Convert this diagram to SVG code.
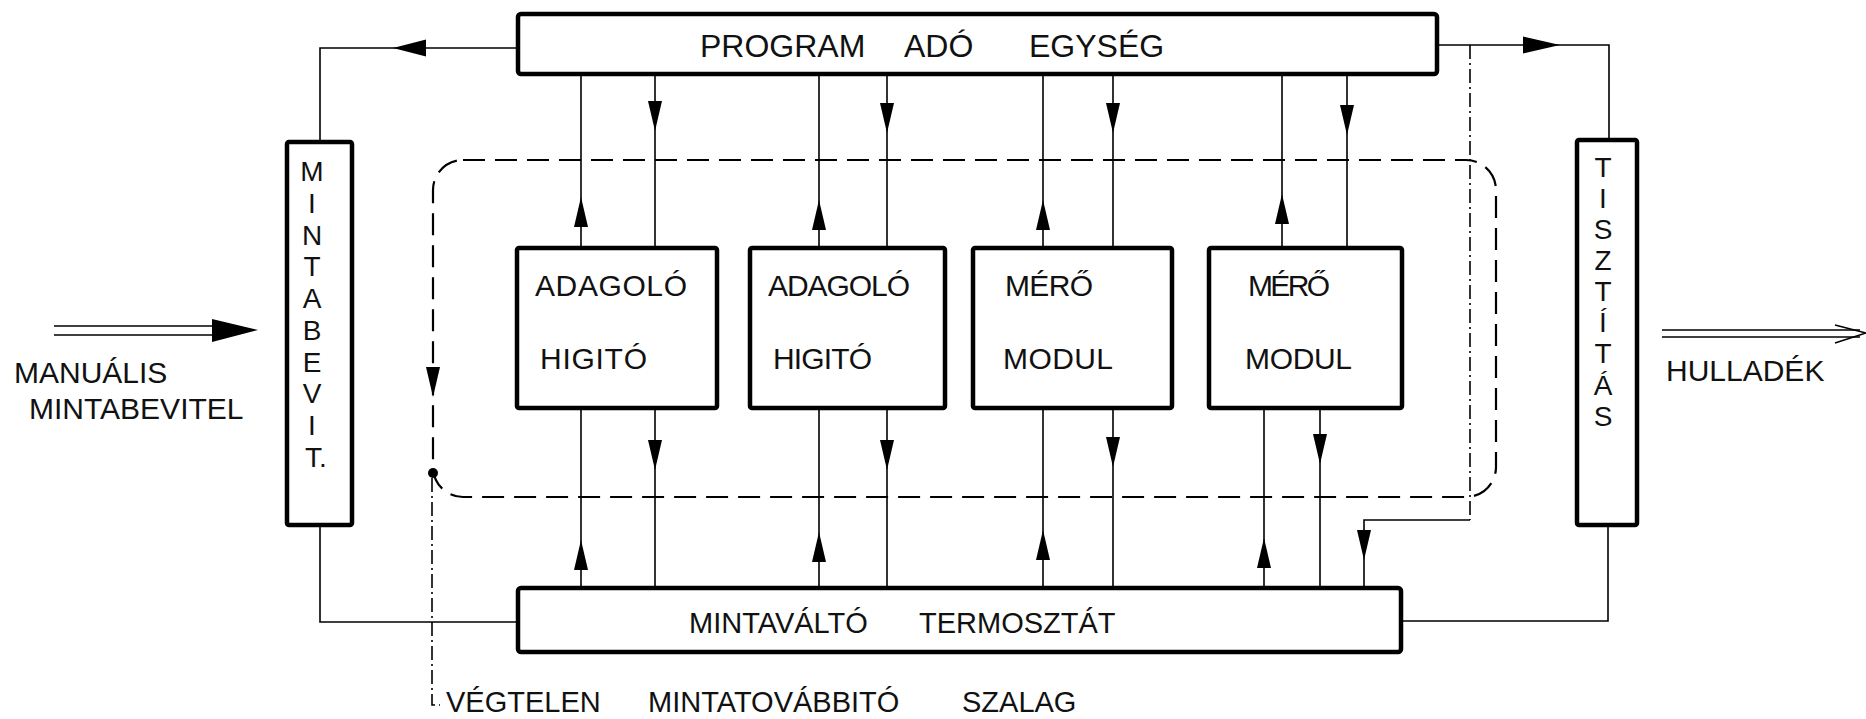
<svg xmlns="http://www.w3.org/2000/svg" width="1866" height="719" viewBox="0 0 1866 719">
  <defs>
    <style>
      .box{fill:#fff;stroke:#000;stroke-width:4.5}
      .ln{fill:none;stroke:#000;stroke-width:1.6}
      .dash{fill:none;stroke:#000;stroke-width:2.2;stroke-dasharray:22 10}
      .dd{fill:none;stroke:#000;stroke-width:1.6;stroke-dasharray:14 4 2 4}
      .ah{fill:#000}
      text{font-family:"Liberation Sans",Arial,sans-serif;fill:#111}
      .big{font-size:32px}
      .mid{font-size:30px}
      .sm{font-size:29px}
      .vert{font-size:28px;text-anchor:middle}
    </style>
    <!-- filled arrowheads, tip at the origin -->
    <path id="aDn" d="M-7,-30 L7,-30 L0,0 Z"/>
    <path id="aUp" d="M-7,30 L7,30 L0,0 Z"/>
    <path id="aL" d="M0,0 L33,-8.5 L33,8.5 Z"/>
    <path id="aR" d="M0,0 L-37,-8.5 L-37,8.5 Z"/>
  </defs>

  <rect width="1866" height="719" fill="#fff"/>

  <g id="connectors">
    <!-- endless sample conveyor belt loop -->
    <rect class="dash" x="433" y="160" width="1063" height="337" rx="30"/>
    <use class="ah" href="#aDn" x="433" y="397"/>
    <circle cx="433" cy="473" r="5" fill="#000"/>
    <path class="dd" d="M432,478 V705 H440"/>

    <!-- program unit to sample input and cleaning -->
    <path class="ln" d="M518,48 H320 V142"/>
    <use class="ah" href="#aL" x="393" y="48"/>
    <path class="ln" d="M1437,45 H1609 V140"/>
    <use class="ah" href="#aR" x="1560" y="45"/>
    <path class="dd" d="M1470,45 V520"/>
    <path class="ln" d="M1470,520 H1364 V588"/>
    <use class="ah" href="#aDn" x="1364" y="560"/>

    <!-- sample input / cleaning to sample changer -->
    <path class="ln" d="M320,525 V622 H518"/>
    <path class="ln" d="M1401,621 H1608 V525"/>

    <!-- program unit to modules -->
    <path class="ln" d="M581,74 V248 M655,74 V248 M819,74 V248 M887,74 V248 M1043,74 V248 M1113,74 V248 M1282,74 V248 M1347,74 V248"/>
    <use class="ah" href="#aUp" x="581" y="197"/>
    <use class="ah" href="#aDn" x="655" y="131"/>
    <use class="ah" href="#aUp" x="819" y="200"/>
    <use class="ah" href="#aDn" x="887" y="133"/>
    <use class="ah" href="#aUp" x="1043" y="200"/>
    <use class="ah" href="#aDn" x="1113" y="133"/>
    <use class="ah" href="#aUp" x="1282" y="194"/>
    <use class="ah" href="#aDn" x="1347" y="135"/>

    <!-- modules to sample changer -->
    <path class="ln" d="M581,408 V588 M655,408 V588 M819,408 V588 M887,408 V588 M1043,408 V588 M1113,408 V588 M1264,408 V588 M1320,408 V588"/>
    <use class="ah" href="#aUp" x="581" y="540"/>
    <use class="ah" href="#aDn" x="655" y="470"/>
    <use class="ah" href="#aUp" x="819" y="532"/>
    <use class="ah" href="#aDn" x="887" y="470"/>
    <use class="ah" href="#aUp" x="1043" y="530"/>
    <use class="ah" href="#aDn" x="1113" y="467"/>
    <use class="ah" href="#aUp" x="1264" y="538"/>
    <use class="ah" href="#aDn" x="1320" y="464"/>

    <!-- manual input and waste flows -->
    <path class="ln" d="M54,326 H222 M54,335 H222"/>
    <path class="ah" d="M258,330 L212,319 L212,342 Z"/>
    <path class="ln" d="M1662,330 H1860 M1662,337 H1860"/>
    <path class="ln" d="M1835,325 L1866,333 L1835,343"/>
  </g>

  <g id="program-unit">
    <rect class="box" x="518" y="14" width="919" height="60" rx="3"/>
    <text class="big" y="57"><tspan x="700">PROGRAM</tspan> <tspan x="904">ADÓ</tspan> <tspan x="1029">EGYSÉG</tspan></text>
  </g>

  <g id="dispenser-1">
    <rect class="box" x="517" y="248" width="200" height="160" rx="2"/>
    <text class="mid" x="535" y="296" textLength="152">ADAGOLÓ</text>
    <text class="mid" x="540" y="369" textLength="107">HIGITÓ</text>
  </g>

  <g id="dispenser-2">
    <rect class="box" x="750" y="248" width="195" height="160" rx="2"/>
    <text class="mid" x="768" y="296" textLength="142">ADAGOLÓ</text>
    <text class="mid" x="773" y="369" textLength="99">HIGITÓ</text>
  </g>

  <g id="measuring-1">
    <rect class="box" x="973" y="248" width="199" height="160" rx="2"/>
    <text class="mid" x="1005" y="296" textLength="88">MÉRŐ</text>
    <text class="mid" x="1003" y="369" textLength="110">MODUL</text>
  </g>

  <g id="measuring-2">
    <rect class="box" x="1209" y="248" width="193" height="160" rx="2"/>
    <text class="mid" x="1248" y="296" textLength="82">MÉRŐ</text>
    <text class="mid" x="1245" y="369" textLength="107">MODUL</text>
  </g>

  <g id="sample-changer">
    <rect class="box" x="518" y="588" width="883" height="64" rx="3"/>
    <text class="sm" y="633"><tspan x="689">MINTAVÁLTÓ</tspan> <tspan x="919">TERMOSZTÁT</tspan></text>
  </g>

  <g id="sample-input">
    <rect class="box" x="287" y="142" width="65" height="383" rx="2"/>
    <text class="vert"><tspan x="312" y="181">M</tspan><tspan x="312" y="213">I</tspan><tspan x="312" y="245">N</tspan><tspan x="312" y="276">T</tspan><tspan x="312" y="308">A</tspan><tspan x="312" y="340">B</tspan><tspan x="312" y="372">E</tspan><tspan x="312" y="403">V</tspan><tspan x="312" y="435">I</tspan><tspan x="316" y="467">T.</tspan></text>
  </g>

  <g id="cleaning">
    <rect class="box" x="1577" y="140" width="60" height="385" rx="2"/>
    <text class="vert"><tspan x="1603" y="177">T</tspan><tspan x="1603" y="208">I</tspan><tspan x="1603" y="239">S</tspan><tspan x="1603" y="270">Z</tspan><tspan x="1603" y="301">T</tspan><tspan x="1603" y="332">Í</tspan><tspan x="1603" y="363">T</tspan><tspan x="1603" y="395">Á</tspan><tspan x="1603" y="426">S</tspan></text>
  </g>

  <g id="manual-input">
    <text class="mid"><tspan x="14" y="383">MANUÁLIS</tspan> <tspan x="29" y="419">MINTABEVITEL</tspan></text>
  </g>

  <g id="waste">
    <text class="mid" x="1666" y="381">HULLADÉK</text>
  </g>

  <g id="belt-label">
    <text class="sm" y="712"><tspan x="446">VÉGTELEN</tspan> <tspan x="648">MINTATOVÁBBITÓ</tspan> <tspan x="962">SZALAG</tspan></text>
  </g>
</svg>
